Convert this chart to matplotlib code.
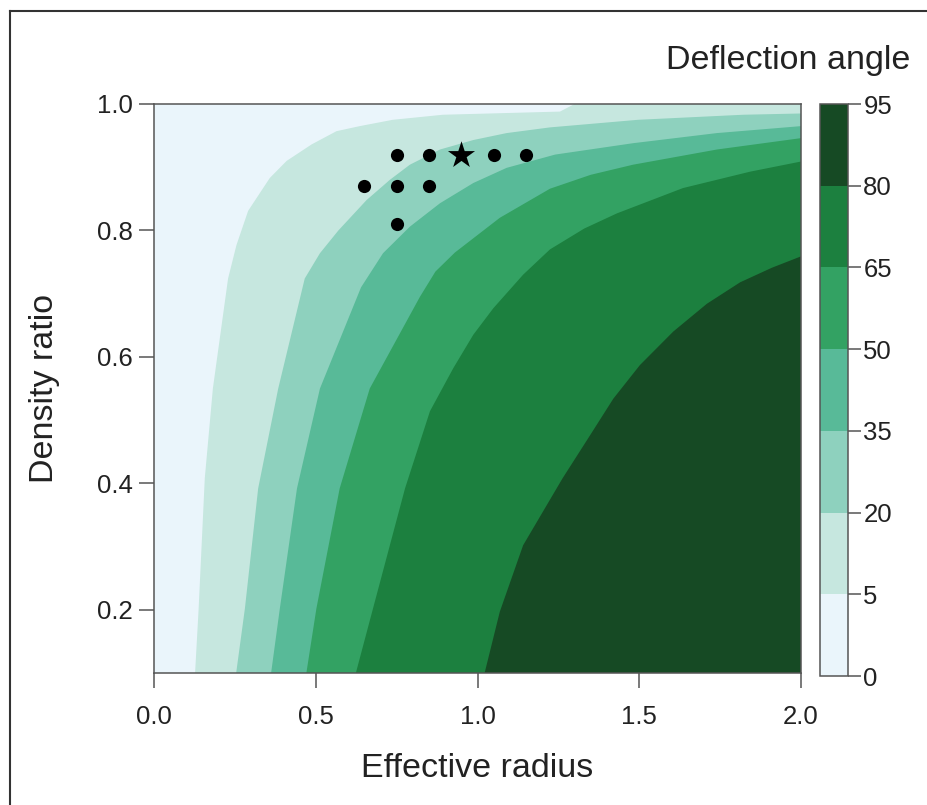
import matplotlib
matplotlib.use("Agg")
import matplotlib.pyplot as plt
from matplotlib.colors import ListedColormap, BoundaryNorm
from matplotlib.cm import ScalarMappable
from matplotlib.lines import Line2D

plt.rcParams["font.family"] = ["Liberation Sans", "DejaVu Sans"]

# niveles de la barra de color
levels = [0, 5, 20, 35, 50, 65, 80, 95]
band_colors = ["#eaf5fb", "#c6e7df", "#8ed1be", "#58ba98", "#33a263", "#1c803f", "#164a24"]

# fronteras de cada nivel: x en función de y
b5_x = [0.127, 0.138, 0.157, 0.182, 0.229, 0.255, 0.291, 0.358, 0.410, 0.487, 0.564, 0.636, 0.738, 0.893, 1.255, 1.300]
b5_y = [0.100, 0.202, 0.408, 0.550, 0.724, 0.777, 0.831, 0.883, 0.910, 0.936, 0.957, 0.965, 0.975, 0.983, 0.988, 1.000]

b20_x = [0.254, 0.281, 0.322, 0.384, 0.466, 0.513, 0.570, 0.657, 0.729, 0.791, 0.884, 0.987, 1.090, 1.224, 1.496, 1.821, 2.000]
b20_y = [0.100, 0.202, 0.392, 0.550, 0.724, 0.764, 0.800, 0.848, 0.880, 0.904, 0.928, 0.943, 0.954, 0.963, 0.975, 0.983, 0.985]

b35_x = [0.362, 0.389, 0.442, 0.513, 0.640, 0.708, 0.791, 0.884, 0.987, 1.090, 1.240, 1.481, 1.740, 2.000]
b35_y = [0.100, 0.202, 0.392, 0.550, 0.710, 0.764, 0.806, 0.843, 0.875, 0.899, 0.920, 0.938, 0.954, 0.965]

b50_x = [0.471, 0.502, 0.574, 0.667, 0.822, 0.870, 0.930, 1.069, 1.224, 1.350, 1.481, 1.740, 2.000]
b50_y = [0.100, 0.202, 0.392, 0.550, 0.695, 0.735, 0.765, 0.820, 0.866, 0.888, 0.904, 0.928, 0.946]

b65_x = [0.624, 0.677, 0.776, 0.853, 0.925, 0.987, 1.049, 1.141, 1.224, 1.330, 1.431, 1.635, 1.843, 2.000]
b65_y = [0.100, 0.202, 0.392, 0.514, 0.582, 0.635, 0.677, 0.730, 0.770, 0.803, 0.827, 0.867, 0.893, 0.909]

b80_x = [1.022, 1.069, 1.141, 1.263, 1.348, 1.420, 1.502, 1.605, 1.709, 1.812, 1.910, 2.000]
b80_y = [0.100, 0.197, 0.302, 0.408, 0.476, 0.534, 0.587, 0.640, 0.684, 0.718, 0.741, 0.759]

boundaries = [(b5_x, b5_y), (b20_x, b20_y), (b35_x, b35_y),
              (b50_x, b50_y), (b65_x, b65_y), (b80_x, b80_y)]

# simulaciones (puntos) y caso de referencia (estrella)
dots_x = [0.75, 0.85, 1.05, 1.15, 0.65, 0.75, 0.85, 0.75]
dots_y = [0.92, 0.92, 0.92, 0.92, 0.87, 0.87, 0.87, 0.81]
star_x = [0.95]
star_y = [0.92]

xticks = [0.0, 0.5, 1.0, 1.5, 2.0]
yticks = [0.2, 0.4, 0.6, 0.8, 1.0]
xlim = (0.0, 2.0)
ylim = (0.1, 1.0)

W, H = 927, 805
fig = plt.figure(figsize=(W / 100, H / 100), dpi=100)

# marco de la figura (solo arriba e izquierda)
fig.add_artist(Line2D([10 / W, 10 / W], [0, 1 - 11 / H], transform=fig.transFigure, color="#333333", lw=1.5))
fig.add_artist(Line2D([10 / W, 1], [1 - 11 / H, 1 - 11 / H], transform=fig.transFigure, color="#333333", lw=1.5))

ax = fig.add_axes([154 / W, 1 - 673 / H, (801 - 154) / W, (673 - 104) / H])
ax.fill([xlim[0], xlim[1], xlim[1], xlim[0]], [ylim[0], ylim[0], ylim[1], ylim[1]],
        color=band_colors[0], lw=0)
for (bx, by), col in zip(boundaries, band_colors[1:]):
    xs = list(bx)
    ys = list(by)
    if xs[-1] < xlim[1]:
        xs.append(xlim[1])
        ys.append(ylim[1])
    xs.append(xlim[1])
    ys.append(ylim[0])
    ax.fill(xs, ys, color=col, lw=0)

ax.scatter(dots_x, dots_y, s=90, color="black", zorder=5, lw=0)
ax.scatter(star_x, star_y, s=420, marker="*", color="black", zorder=5, lw=0)

ax.set_xlim(*xlim)
ax.set_ylim(*ylim)
ax.set_xticks(xticks)
ax.set_yticks(yticks)
ax.set_xticklabels([f"{v:.1f}" for v in xticks])
ax.set_yticklabels([f"{v:.1f}" for v in yticks])
ax.tick_params(axis="both", direction="out", length=11, width=1.1, color="#555555",
               labelsize=18.5, labelcolor="#222222")
ax.tick_params(axis="x", pad=12)
ax.tick_params(axis="y", pad=4)
for sp in ax.spines.values():
    sp.set_color("#555555")
    sp.set_linewidth(1.1)

ax.set_xlabel("Effective radius", fontsize=24.5, color="#222222", labelpad=17)
ax.set_ylabel("Density ratio", fontsize=24.5, color="#222222", labelpad=27)

# barra de color
cax = fig.add_axes([820 / W, 1 - 676 / H, 28 / W, (676 - 104) / H])
sm = ScalarMappable(norm=BoundaryNorm(levels, len(band_colors)), cmap=ListedColormap(band_colors))
cb = fig.colorbar(sm, cax=cax, ticks=levels, spacing="uniform")
cb.outline.set_edgecolor("#555555")
cb.outline.set_linewidth(1.1)
cax.tick_params(direction="out", length=9, width=1.1, color="#555555",
                labelsize=18.5, labelcolor="#222222", pad=2)

fig.text(910 / W, 1 - 60 / H, "Deflection angle", ha="right", va="center",
         fontsize=24.5, color="#222222")

fig.savefig("out.png", dpi=100)
